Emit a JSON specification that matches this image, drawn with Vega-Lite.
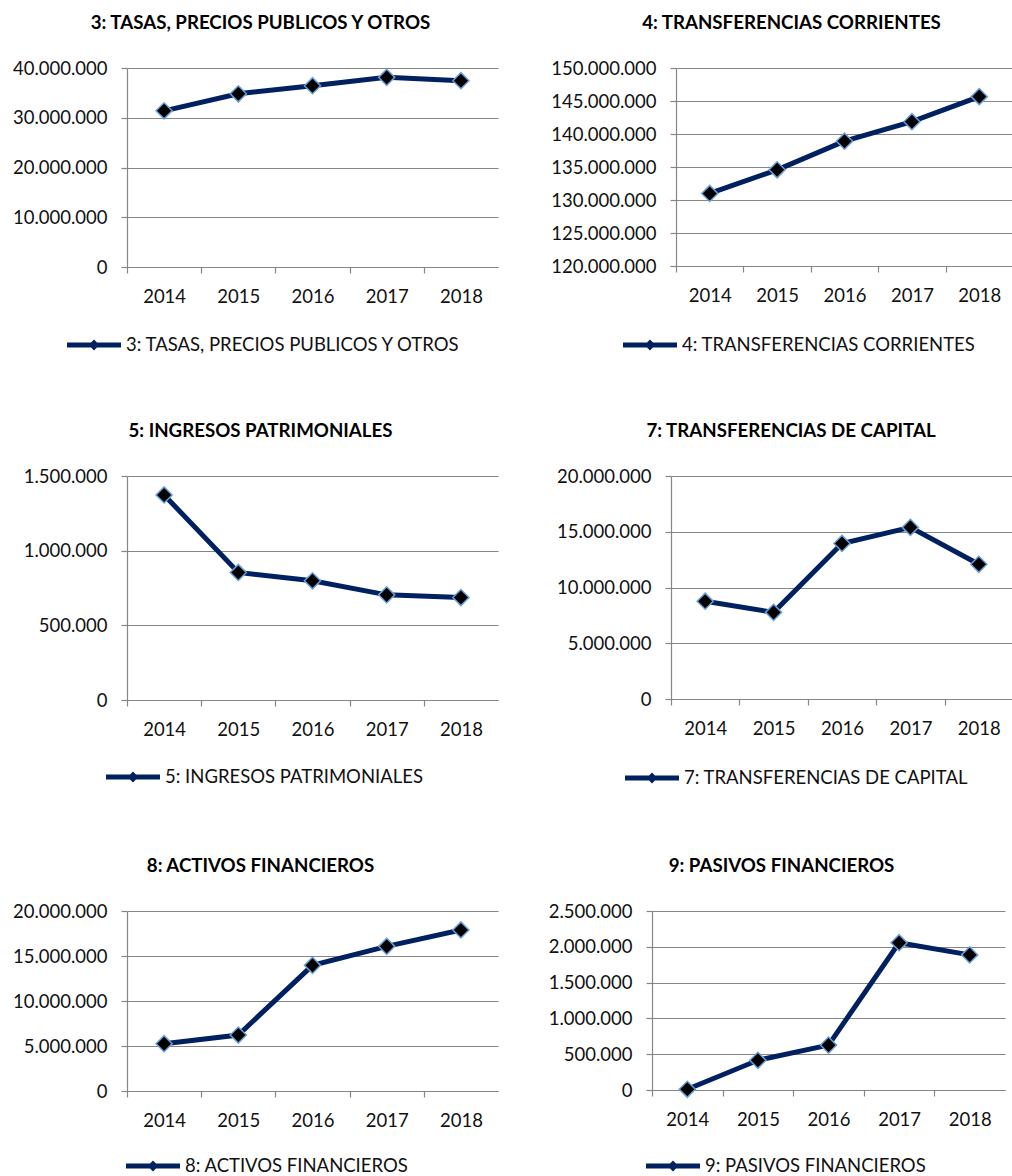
{
  "$schema": "https://vega.github.io/schema/vega-lite/v6.json",
  "padding": {"left": 12, "top": 14, "right": 0, "bottom": 0},
  "data": {"values": [
    {"serie": "3: TASAS, PRECIOS PUBLICOS Y OTROS", "anio": 2014, "valor": 31390000},
    {"serie": "3: TASAS, PRECIOS PUBLICOS Y OTROS", "anio": 2015, "valor": 34820000},
    {"serie": "3: TASAS, PRECIOS PUBLICOS Y OTROS", "anio": 2016, "valor": 36440000},
    {"serie": "3: TASAS, PRECIOS PUBLICOS Y OTROS", "anio": 2017, "valor": 38120000},
    {"serie": "3: TASAS, PRECIOS PUBLICOS Y OTROS", "anio": 2018, "valor": 37450000},
    {"serie": "4: TRANSFERENCIAS CORRIENTES", "anio": 2014, "valor": 130990000},
    {"serie": "4: TRANSFERENCIAS CORRIENTES", "anio": 2015, "valor": 134570000},
    {"serie": "4: TRANSFERENCIAS CORRIENTES", "anio": 2016, "valor": 138910000},
    {"serie": "4: TRANSFERENCIAS CORRIENTES", "anio": 2017, "valor": 141870000},
    {"serie": "4: TRANSFERENCIAS CORRIENTES", "anio": 2018, "valor": 145660000},
    {"serie": "5: INGRESOS PATRIMONIALES", "anio": 2014, "valor": 1373000},
    {"serie": "5: INGRESOS PATRIMONIALES", "anio": 2015, "valor": 854000},
    {"serie": "5: INGRESOS PATRIMONIALES", "anio": 2016, "valor": 798000},
    {"serie": "5: INGRESOS PATRIMONIALES", "anio": 2017, "valor": 704000},
    {"serie": "5: INGRESOS PATRIMONIALES", "anio": 2018, "valor": 686000},
    {"serie": "7: TRANSFERENCIAS DE CAPITAL", "anio": 2014, "valor": 8770000},
    {"serie": "7: TRANSFERENCIAS DE CAPITAL", "anio": 2015, "valor": 7770000},
    {"serie": "7: TRANSFERENCIAS DE CAPITAL", "anio": 2016, "valor": 13950000},
    {"serie": "7: TRANSFERENCIAS DE CAPITAL", "anio": 2017, "valor": 15390000},
    {"serie": "7: TRANSFERENCIAS DE CAPITAL", "anio": 2018, "valor": 12080000},
    {"serie": "8: ACTIVOS FINANCIEROS", "anio": 2014, "valor": 5260000},
    {"serie": "8: ACTIVOS FINANCIEROS", "anio": 2015, "valor": 6220000},
    {"serie": "8: ACTIVOS FINANCIEROS", "anio": 2016, "valor": 13960000},
    {"serie": "8: ACTIVOS FINANCIEROS", "anio": 2017, "valor": 16070000},
    {"serie": "8: ACTIVOS FINANCIEROS", "anio": 2018, "valor": 17890000},
    {"serie": "9: PASIVOS FINANCIEROS", "anio": 2014, "valor": 10000},
    {"serie": "9: PASIVOS FINANCIEROS", "anio": 2015, "valor": 415000},
    {"serie": "9: PASIVOS FINANCIEROS", "anio": 2016, "valor": 627000},
    {"serie": "9: PASIVOS FINANCIEROS", "anio": 2017, "valor": 2057000},
    {"serie": "9: PASIVOS FINANCIEROS", "anio": 2018, "valor": 1887000}
  ]},
  "config": {
    "locale": {"number": {"decimal": ",", "thousands": ".", "grouping": [3], "currency": ["", " €"]}},
    "view": {"stroke": null},
    "axis": {"labelFont": "Lato", "labelFontSize": 18.5, "labelColor": "#111111", "domainColor": "#868686", "tickColor": "#868686", "gridColor": "#868686", "domainWidth": 1.2, "tickWidth": 1.2, "gridWidth": 1.2, "tickSize": 6},
    "title": {"font": "Lato", "fontSize": 18.7, "fontWeight": "bold", "color": "#000000", "anchor": "middle", "frame": "group", "offset": 26},
    "legend": {"labelFont": "Lato", "labelFontSize": 18.5, "labelColor": "#111111", "padding": 0}
  },
  "columns": 1,
  "spacing": 67,
  "resolve": {"scale": {"color": "independent", "x": "independent", "y": "independent"}, "legend": {"color": "independent"}},
  "concat": [
    {
      "columns": 2,
      "spacing": 52,
      "resolve": {"scale": {"color": "independent", "x": "independent", "y": "independent"}, "legend": {"color": "independent"}},
      "concat": [
        {
          "title": {"text": "3: TASAS, PRECIOS PUBLICOS Y OTROS", "dx": -52},
          "width": 371, "height": 199,
          "transform": [{"filter": "datum.serie === '3: TASAS, PRECIOS PUBLICOS Y OTROS'"}],
          "encoding": {
            "x": {"field": "anio", "type": "quantitative", "scale": {"domain": [2013.5, 2018.5], "nice": false, "zero": false},
              "axis": {"values": [2014, 2015, 2016, 2017, 2018], "format": "d", "tickOffset": -37.1, "labelOffset": 37.1, "grid": false, "labelPadding": 14, "title": null}},
            "y": {"field": "valor", "type": "quantitative", "scale": {"domain": [0, 40000000], "nice": false, "zero": false},
              "axis": {"values": [0, 10000000, 20000000, 30000000, 40000000], "format": ",d", "grid": true, "labelPadding": 14, "title": null}}
          },
          "layer": [
            {"mark": {"type": "line", "strokeWidth": 5},
             "encoding": {"color": {"field": "serie", "type": "nominal", "scale": {"range": ["#002060"]},
               "legend": {"orient": "none", "legendX": -60, "legendY": 250, "title": null, "symbolType": "M-1,-0.09L1,-0.09L1,0.09L-1,0.09Z M0,-0.2L0.2,0L0,0.2L-0.2,0Z", "symbolSize": 2916, "symbolFillColor": "#002060", "symbolStrokeWidth": 0, "labelOffset": 5, "labelLimit": 0}}}},
            {"mark": {"type": "point", "shape": "diamond", "filled": true, "fill": "#000000", "stroke": "#6A9FD8", "strokeWidth": 1.5, "size": 260, "opacity": 1}}
          ]
        },
        {
          "title": {"text": "4: TRANSFERENCIAS CORRIENTES", "dx": -53},
          "width": 337, "height": 198,
          "transform": [{"filter": "datum.serie === '4: TRANSFERENCIAS CORRIENTES'"}],
          "encoding": {
            "x": {"field": "anio", "type": "quantitative", "scale": {"domain": [2013.5, 2018.5], "nice": false, "zero": false},
              "axis": {"values": [2014, 2015, 2016, 2017, 2018], "format": "d", "tickOffset": -33.7, "labelOffset": 33.7, "grid": false, "labelPadding": 14, "title": null}},
            "y": {"field": "valor", "type": "quantitative", "scale": {"domain": [120000000, 150000000], "nice": false, "zero": false},
              "axis": {"values": [120000000, 125000000, 130000000, 135000000, 140000000, 145000000, 150000000], "format": ",d", "grid": true, "labelPadding": 14, "title": null}}
          },
          "layer": [
            {"mark": {"type": "line", "strokeWidth": 5},
             "encoding": {"color": {"field": "serie", "type": "nominal", "scale": {"range": ["#002060"]},
               "legend": {"orient": "none", "legendX": -53, "legendY": 250, "title": null, "symbolType": "M-1,-0.09L1,-0.09L1,0.09L-1,0.09Z M0,-0.2L0.2,0L0,0.2L-0.2,0Z", "symbolSize": 2916, "symbolFillColor": "#002060", "symbolStrokeWidth": 0, "labelOffset": 5, "labelLimit": 0}}}},
            {"mark": {"type": "point", "shape": "diamond", "filled": true, "fill": "#000000", "stroke": "#6A9FD8", "strokeWidth": 1.5, "size": 260, "opacity": 1}}
          ]
        }
      ]
    },
    {
      "columns": 1,
      "spacing": 69,
      "resolve": {"scale": {"color": "independent", "x": "independent", "y": "independent"}, "legend": {"color": "independent"}},
      "concat": [
        {
          "columns": 2,
          "spacing": 58,
          "resolve": {"scale": {"color": "independent", "x": "independent", "y": "independent"}, "legend": {"color": "independent"}},
          "concat": [
            {
              "title": {"text": "5: INGRESOS PATRIMONIALES", "dx": -52},
              "width": 371, "height": 224,
              "transform": [{"filter": "datum.serie === '5: INGRESOS PATRIMONIALES'"}],
              "encoding": {
                "x": {"field": "anio", "type": "quantitative", "scale": {"domain": [2013.5, 2018.5], "nice": false, "zero": false},
                  "axis": {"values": [2014, 2015, 2016, 2017, 2018], "format": "d", "tickOffset": -37.1, "labelOffset": 37.1, "grid": false, "labelPadding": 14, "title": null}},
                "y": {"field": "valor", "type": "quantitative", "scale": {"domain": [0, 1500000], "nice": false, "zero": false},
                  "axis": {"values": [0, 500000, 1000000, 1500000], "format": ",d", "grid": true, "labelPadding": 14, "title": null}}
              },
              "layer": [
                {"mark": {"type": "line", "strokeWidth": 5},
                 "encoding": {"color": {"field": "serie", "type": "nominal", "scale": {"range": ["#002060"]},
                   "legend": {"orient": "none", "legendX": -21, "legendY": 274, "title": null, "symbolType": "M-1,-0.09L1,-0.09L1,0.09L-1,0.09Z M0,-0.2L0.2,0L0,0.2L-0.2,0Z", "symbolSize": 2916, "symbolFillColor": "#002060", "symbolStrokeWidth": 0, "labelOffset": 5, "labelLimit": 0}}}},
                {"mark": {"type": "point", "shape": "diamond", "filled": true, "fill": "#000000", "stroke": "#6A9FD8", "strokeWidth": 1.5, "size": 260, "opacity": 1}}
              ]
            },
            {
              "title": {"text": "7: TRANSFERENCIAS DE CAPITAL", "dx": -51},
              "width": 342, "height": 223,
              "transform": [{"filter": "datum.serie === '7: TRANSFERENCIAS DE CAPITAL'"}],
              "encoding": {
                "x": {"field": "anio", "type": "quantitative", "scale": {"domain": [2013.5, 2018.5], "nice": false, "zero": false},
                  "axis": {"values": [2014, 2015, 2016, 2017, 2018], "format": "d", "tickOffset": -34.2, "labelOffset": 34.2, "grid": false, "labelPadding": 14, "title": null}},
                "y": {"field": "valor", "type": "quantitative", "scale": {"domain": [0, 20000000], "nice": false, "zero": false},
                  "axis": {"values": [0, 5000000, 10000000, 15000000, 20000000], "format": ",d", "grid": true, "labelPadding": 14, "title": null}}
              },
              "layer": [
                {"mark": {"type": "line", "strokeWidth": 5},
                 "encoding": {"color": {"field": "serie", "type": "nominal", "scale": {"range": ["#002060"]},
                   "legend": {"orient": "none", "legendX": -46, "legendY": 275, "title": null, "symbolType": "M-1,-0.09L1,-0.09L1,0.09L-1,0.09Z M0,-0.2L0.2,0L0,0.2L-0.2,0Z", "symbolSize": 2916, "symbolFillColor": "#002060", "symbolStrokeWidth": 0, "labelOffset": 5, "labelLimit": 0}}}},
                {"mark": {"type": "point", "shape": "diamond", "filled": true, "fill": "#000000", "stroke": "#6A9FD8", "strokeWidth": 1.5, "size": 260, "opacity": 1}}
              ]
            }
          ]
        },
        {
          "columns": 2,
          "spacing": 50,
          "resolve": {"scale": {"color": "independent", "x": "independent", "y": "independent"}, "legend": {"color": "independent"}},
          "concat": [
            {
              "title": {"text": "8: ACTIVOS FINANCIEROS", "dx": -52},
              "width": 371, "height": 180,
              "transform": [{"filter": "datum.serie === '8: ACTIVOS FINANCIEROS'"}],
              "encoding": {
                "x": {"field": "anio", "type": "quantitative", "scale": {"domain": [2013.5, 2018.5], "nice": false, "zero": false},
                  "axis": {"values": [2014, 2015, 2016, 2017, 2018], "format": "d", "tickOffset": -37.1, "labelOffset": 37.1, "grid": false, "labelPadding": 14, "title": null}},
                "y": {"field": "valor", "type": "quantitative", "scale": {"domain": [0, 20000000], "nice": false, "zero": false},
                  "axis": {"values": [0, 5000000, 10000000, 15000000, 20000000], "format": ",d", "grid": true, "labelPadding": 14, "title": null}}
              },
              "layer": [
                {"mark": {"type": "line", "strokeWidth": 5},
                 "encoding": {"color": {"field": "serie", "type": "nominal", "scale": {"range": ["#002060"]},
                   "legend": {"orient": "none", "legendX": -1, "legendY": 228, "title": null, "symbolType": "M-1,-0.09L1,-0.09L1,0.09L-1,0.09Z M0,-0.2L0.2,0L0,0.2L-0.2,0Z", "symbolSize": 2916, "symbolFillColor": "#002060", "symbolStrokeWidth": 0, "labelOffset": 5, "labelLimit": 0}}}},
                {"mark": {"type": "point", "shape": "diamond", "filled": true, "fill": "#000000", "stroke": "#6A9FD8", "strokeWidth": 1.5, "size": 260, "opacity": 1}}
              ]
            },
            {
              "title": {"text": "9: PASIVOS FINANCIEROS", "dx": -47},
              "width": 353, "height": 179,
              "transform": [{"filter": "datum.serie === '9: PASIVOS FINANCIEROS'"}],
              "encoding": {
                "x": {"field": "anio", "type": "quantitative", "scale": {"domain": [2013.5, 2018.5], "nice": false, "zero": false},
                  "axis": {"values": [2014, 2015, 2016, 2017, 2018], "format": "d", "tickOffset": -35.3, "labelOffset": 35.3, "grid": false, "labelPadding": 14, "title": null}},
                "y": {"field": "valor", "type": "quantitative", "scale": {"domain": [0, 2500000], "nice": false, "zero": false},
                  "axis": {"values": [0, 500000, 1000000, 1500000, 2000000, 2500000], "format": ",d", "grid": true, "labelPadding": 14, "title": null}}
              },
              "layer": [
                {"mark": {"type": "line", "strokeWidth": 5},
                 "encoding": {"color": {"field": "serie", "type": "nominal", "scale": {"range": ["#002060"]},
                   "legend": {"orient": "none", "legendX": -6, "legendY": 228, "title": null, "symbolType": "M-1,-0.09L1,-0.09L1,0.09L-1,0.09Z M0,-0.2L0.2,0L0,0.2L-0.2,0Z", "symbolSize": 2916, "symbolFillColor": "#002060", "symbolStrokeWidth": 0, "labelOffset": 5, "labelLimit": 0}}}},
                {"mark": {"type": "point", "shape": "diamond", "filled": true, "fill": "#000000", "stroke": "#6A9FD8", "strokeWidth": 1.5, "size": 260, "opacity": 1}}
              ]
            }
          ]
        }
      ]
    }
  ]
}
